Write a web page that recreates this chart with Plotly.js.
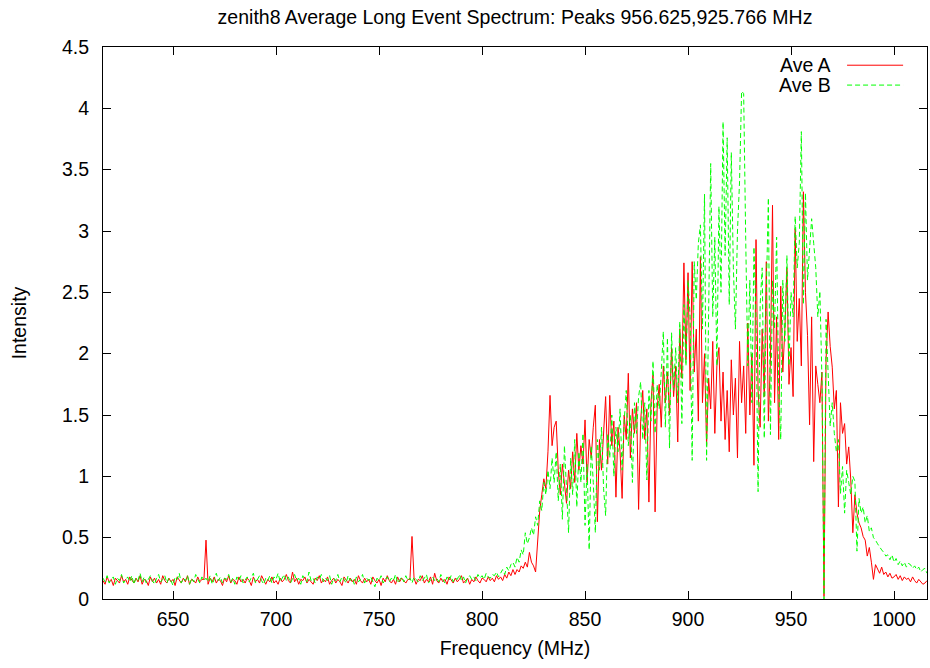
<!DOCTYPE html>
<html>
<head>
<meta charset="utf-8">
<script src="https://cdn.plot.ly/plotly-3.0.1.min.js"></script>
<style>html,body{margin:0;padding:0;background:#fff;}#chart{width:930px;height:668px;}</style>
</head>
<body>
<div id="chart"></div>
<script>
// Frequency grid (MHz): first sample and spacing
const freqStart = 616;
const freqStep = 1;

// Ave A (red) intensities, 616 .. 1016 MHz
const aveA = [
0.15,0.12,0.18,0.14,0.16,0.11,0.17,0.15,0.13,0.19,
0.14,0.16,0.12,0.18,0.15,0.13,0.17,0.14,0.19,0.12,
0.16,0.15,0.11,0.18,0.14,0.17,0.13,0.16,0.12,0.19,
0.15,0.13,0.17,0.14,0.16,0.11,0.18,0.15,0.13,0.17,
0.14,0.19,0.12,0.16,0.15,0.13,0.18,0.14,0.16,0.16,
0.48,0.12,0.17,0.14,0.18,0.13,0.16,0.15,0.11,0.17,
0.14,0.19,0.13,0.16,0.15,0.12,0.18,0.14,0.16,0.13,
0.17,0.15,0.11,0.18,0.14,0.16,0.13,0.19,0.15,0.12,
0.16,0.14,0.18,0.13,0.15,0.12,0.17,0.14,0.16,0.20,
0.15,0.13,0.22,0.14,0.17,0.12,0.16,0.15,0.18,0.13,
0.16,0.14,0.12,0.17,0.15,0.19,0.13,0.16,0.14,0.18,
0.12,0.15,0.17,0.13,0.16,0.14,0.11,0.18,0.15,0.13,
0.17,0.14,0.16,0.12,0.19,0.15,0.13,0.17,0.14,0.16,
0.12,0.18,0.15,0.13,0.16,0.11,0.17,0.14,0.19,0.15,
0.13,0.16,0.12,0.18,0.14,0.17,0.15,0.13,0.16,0.16,
0.51,0.17,0.12,0.16,0.15,0.19,0.13,0.16,0.14,0.18,
0.12,0.21,0.15,0.13,0.17,0.14,0.16,0.12,0.18,0.15,
0.13,0.17,0.14,0.16,0.19,0.13,0.15,0.17,0.12,0.16,
0.14,0.18,0.15,0.13,0.17,0.16,0.14,0.18,0.15,0.17,
0.14,0.19,0.16,0.18,0.15,0.20,0.17,0.22,0.19,0.24,
0.20,0.24,0.22,0.27,0.25,0.30,0.26,0.38,0.30,0.27,
0.22,0.45,0.72,0.85,0.98,0.90,1.20,1.66,1.25,1.40,
1.45,1.05,0.85,1.10,0.95,0.78,1.05,0.90,1.20,0.95,
1.35,1.05,1.25,1.10,1.46,0.95,1.30,1.15,1.40,1.58,
0.63,1.30,1.05,1.40,1.65,1.10,1.66,1.25,1.45,0.83,
1.40,1.20,0.82,1.50,1.30,1.84,1.15,1.55,1.35,1.60,
0.73,1.45,1.70,1.30,1.55,0.79,1.60,1.83,0.71,1.55,
1.75,1.40,1.90,1.60,1.85,1.50,2.05,1.65,1.90,1.28,
2.20,1.80,2.74,1.95,2.66,1.70,2.75,1.85,2.20,1.45,
2.79,1.60,2.00,1.25,1.80,1.55,2.10,1.35,1.90,2.05,
1.45,1.85,1.30,1.70,1.20,1.95,1.50,1.80,1.15,2.10,
1.60,1.90,1.35,2.25,1.50,2.00,1.09,2.93,1.70,1.40,
2.20,1.65,2.75,1.45,1.95,3.21,1.60,2.30,1.30,2.55,
1.85,2.20,2.70,1.75,2.05,1.65,3.02,2.10,2.45,1.90,
3.32,2.50,2.15,1.42,2.30,1.12,1.90,1.75,1.60,1.85,
0.02,1.95,2.34,2.06,1.89,1.55,1.70,0.75,1.60,1.35,
1.43,1.10,1.24,0.97,0.54,0.85,0.70,0.62,0.58,0.51,
0.48,0.35,0.42,0.30,0.16,0.28,0.24,0.21,0.26,0.20,
0.22,0.18,0.21,0.17,0.18,0.20,0.16,0.19,0.15,0.18,
0.16,0.17,0.14,0.18,0.15,0.13,0.16,0.14,0.12,0.13,
0.15
];

// Ave B (green) intensities, 616 .. 1016 MHz
const aveB = [
0.17,0.14,0.19,0.13,0.16,0.18,0.12,0.17,0.15,0.20,
0.13,0.16,0.18,0.14,0.19,0.12,0.17,0.15,0.21,0.14,
0.18,0.13,0.16,0.19,0.15,0.12,0.17,0.20,0.14,0.16,
0.19,0.13,0.17,0.15,0.11,0.18,0.16,0.21,0.13,0.17,
0.15,0.19,0.12,0.17,0.14,0.20,0.16,0.13,0.18,0.15,
0.17,0.14,0.19,0.12,0.16,0.21,0.15,0.18,0.13,0.17,
0.16,0.20,0.14,0.17,0.12,0.18,0.15,0.19,0.13,0.16,
0.18,0.14,0.17,0.21,0.13,0.16,0.19,0.15,0.12,0.17,
0.15,0.19,0.13,0.18,0.16,0.21,0.14,0.17,0.20,0.15,
0.18,0.13,0.16,0.20,0.15,0.17,0.12,0.19,0.16,0.14,
0.22,0.15,0.17,0.13,0.18,0.16,0.20,0.14,0.17,0.15,
0.19,0.12,0.17,0.15,0.20,0.14,0.18,0.16,0.13,0.19,
0.15,0.17,0.12,0.18,0.14,0.16,0.20,0.13,0.17,0.15,
0.18,0.14,0.10,0.17,0.15,0.19,0.13,0.16,0.18,0.14,
0.17,0.15,0.20,0.13,0.16,0.18,0.14,0.19,0.15,0.17,
0.13,0.18,0.16,0.14,0.19,0.15,0.17,0.20,0.13,0.16,
0.18,0.15,0.17,0.14,0.20,0.16,0.13,0.18,0.15,0.19,
0.14,0.17,0.16,0.20,0.15,0.18,0.13,0.17,0.19,0.16,
0.18,0.15,0.20,0.17,0.19,0.16,0.21,0.18,0.17,0.20,
0.19,0.22,0.18,0.21,0.24,0.20,0.26,0.23,0.28,0.30,
0.26,0.34,0.30,0.40,0.36,0.54,0.45,0.50,0.58,0.52,
0.67,0.60,0.80,0.72,0.95,0.85,1.05,0.90,1.15,0.95,
1.20,0.80,1.10,0.65,1.25,0.90,0.54,1.15,0.85,1.30,
0.75,1.20,0.95,1.35,0.60,1.10,0.40,1.25,0.95,0.54,
1.30,1.05,1.40,0.90,0.68,1.35,1.15,1.50,1.00,1.40,
1.20,1.55,1.05,1.45,1.70,1.25,1.50,0.95,1.60,1.35,
1.65,1.77,1.30,1.60,0.97,1.70,1.45,1.94,1.35,1.75,
1.55,1.85,2.18,1.40,2.13,1.23,2.17,1.70,2.05,1.60,
2.26,1.43,2.40,1.90,2.60,2.30,1.13,2.75,2.44,2.90,
3.05,2.20,3.30,1.13,2.60,3.55,2.30,2.95,1.90,3.20,
2.50,3.89,2.80,3.76,2.40,3.64,2.70,2.20,3.00,3.40,
4.14,4.12,2.93,1.90,2.60,1.60,2.87,2.30,0.875,2.40,
2.70,1.31,2.50,3.27,1.34,2.60,2.20,2.95,1.70,1.30,
2.60,2.10,2.80,1.90,2.50,2.30,3.12,2.70,2.90,3.81,
2.40,3.31,2.60,2.90,3.10,2.90,2.70,2.30,2.51,1.80,
0.00,2.28,1.90,1.41,1.60,1.35,1.20,1.30,0.86,1.08,
0.70,1.05,0.95,0.85,1.00,0.96,0.39,0.82,0.70,0.75,
0.62,0.68,0.55,0.58,0.50,0.48,0.45,0.42,0.40,0.38,
0.35,0.36,0.32,0.36,0.30,0.33,0.28,0.31,0.27,0.30,
0.26,0.29,0.28,0.25,0.27,0.24,0.26,0.22,0.24,0.25,
0.21
];

const seriesNames = ["Ave A", "Ave B"];
const xTicks = [650, 700, 750, 800, 850, 900, 950, 1000];
const yTicks = [0, 0.5, 1, 1.5, 2, 2.5, 3, 3.5, 4, 4.5];
const yTickText = ["0", "0.5", "1", "1.5", "2", "2.5", "3", "3.5", "4", "4.5"];

const FONT = "'Liberation Sans', Arial, sans-serif";
const FS = 19.5;
const RED = "#ff0000";
const GREEN = "#00ff00";
const GREEN_DASH = "5px,3px";

const traces = [
  {type: "scatter", mode: "lines", name: seriesNames[0], x0: freqStart, dx: freqStep, y: aveA,
   line: {color: RED, width: 1}, showlegend: false, hoverinfo: "skip"},
  {type: "scatter", mode: "lines", name: seriesNames[1], x0: freqStart, dx: freqStep, y: aveB,
   line: {color: GREEN, width: 1, dash: GREEN_DASH}, showlegend: false, hoverinfo: "skip"}
];

const layout = {
  width: 930, height: 668,
  margin: {l: 103, r: 3, t: 47, b: 69},
  paper_bgcolor: "#fff", plot_bgcolor: "#fff",
  font: {family: FONT, size: FS, color: "#000"},
  title: {text: "zenith8 Average Long Event Spectrum: Peaks 956.625,925.766 MHz",
          font: {family: FONT, size: FS, color: "#000"},
          x: 0.5, xref: "paper", xanchor: "center", y: 1 - 17/668, yref: "container", yanchor: "middle"},
  xaxis: {range: [616, 1016], tickvals: xTicks, ticks: "inside", ticklen: 8, tickwidth: 1, tickcolor: "#000",
          showline: true, linecolor: "#000", linewidth: 1, mirror: "ticks", showgrid: false, zeroline: false,
          ticklabelstandoff: 3, automargin: false,
          tickfont: {family: FONT, size: FS, color: "#000"},
          title: {text: "Frequency (MHz)", font: {family: FONT, size: FS, color: "#000"}, standoff: 11}},
  yaxis: {range: [0, 4.5], tickvals: yTicks, ticktext: yTickText, ticks: "inside", ticklen: 8, tickwidth: 1, tickcolor: "#000",
          showline: true, linecolor: "#000", linewidth: 1, mirror: "ticks", showgrid: false, zeroline: false,
          ticklabelstandoff: 9, automargin: false,
          tickfont: {family: FONT, size: FS, color: "#000"},
          title: {text: "Intensity", font: {family: FONT, size: FS, color: "#000"}, standoff: 30}},
  showlegend: false,
  annotations: [
    {text: seriesNames[0], xref: "paper", yref: "paper", x: 0.886, y: 0.967, xanchor: "right", yanchor: "middle",
     showarrow: false, font: {family: FONT, size: FS, color: "#000"}},
    {text: seriesNames[1], xref: "paper", yref: "paper", x: 0.886, y: 0.931, xanchor: "right", yanchor: "middle",
     showarrow: false, font: {family: FONT, size: FS, color: "#000"}}
  ],
  shapes: [
    {type: "line", xref: "paper", yref: "paper", x0: 0.903, x1: 0.971, y0: 0.967, y1: 0.967, line: {color: RED, width: 1}},
    {type: "line", xref: "paper", yref: "paper", x0: 0.903, x1: 0.971, y0: 0.931, y1: 0.931, line: {color: GREEN, width: 1, dash: GREEN_DASH}}
  ]
};

Plotly.newPlot("chart", traces, layout, {staticPlot: true, displayModeBar: false});
</script>
</body>
</html>
